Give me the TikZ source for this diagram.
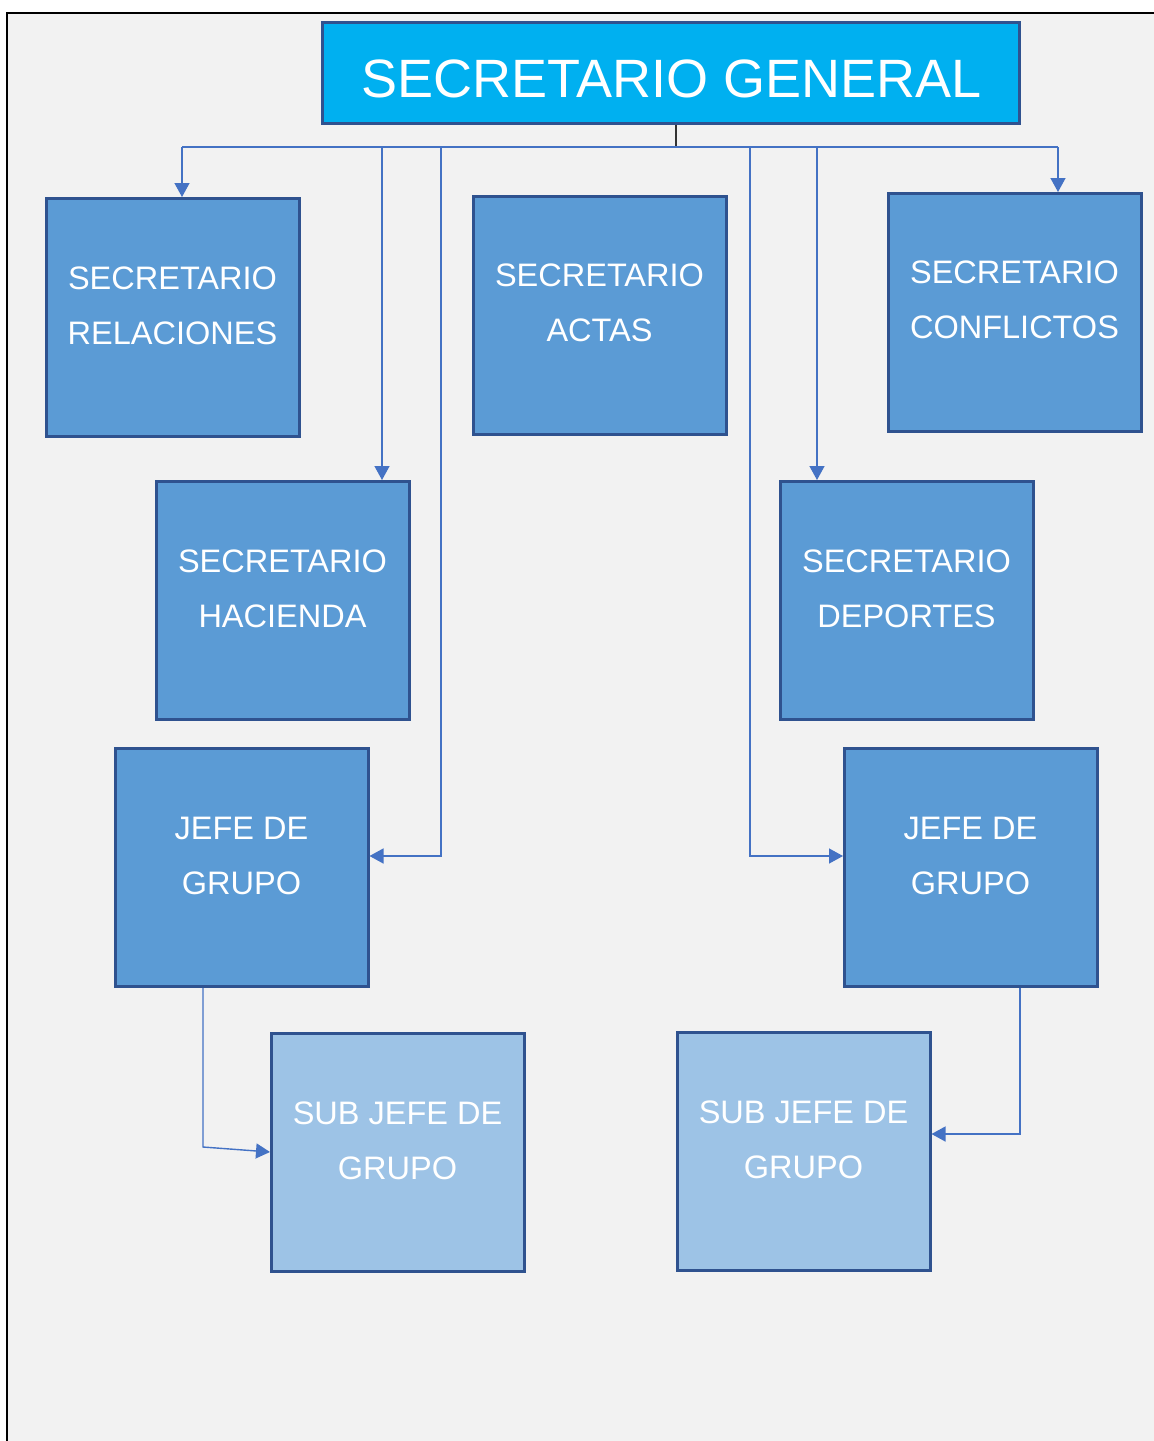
\documentclass[tikz,border=0pt]{standalone}
\usepackage{fontspec}
\setmainfont{Liberation Sans}
\usetikzlibrary{arrows.meta}

\definecolor{panelgray}{HTML}{F2F2F2}
\definecolor{headblue}{HTML}{00B0F0}
\definecolor{boxblue}{HTML}{5B9BD5}
\definecolor{subblue}{HTML}{9DC3E6}
\definecolor{edgeblue}{HTML}{2F528F}
\definecolor{linkblue}{HTML}{4472C4}

\tikzset{
  orgbox/.style={draw=edgeblue, line width=2.5pt, fill=boxblue, anchor=north west,
    minimum width=253pt, minimum height=238pt, inner sep=0pt},
  subbox/.style={orgbox, fill=subblue},
  headbox/.style={draw=edgeblue, line width=2.5pt, fill=headblue, anchor=north west,
    minimum width=697pt, minimum height=101pt, inner sep=0pt},
  boxtext/.style={text=white, align=center, inner sep=0pt,
    font=\fontsize{32.5}{55}\selectfont},
  headtext/.style={text=white, inner sep=0pt, font=\fontsize{54}{60}\selectfont},
  link/.style={draw=linkblue, line width=1.4pt},
  linkarrow/.style={link, -{Triangle[length=14pt,width=15pt]}},
}

\begin{document}
\begin{tikzpicture}[x=1pt,y=-1pt]
  \useasboundingbox (0,0) rectangle (1154,1441);
  % background panel
  \begin{scope}
    \clip (0,0) rectangle (1154,1441);
    \draw[fill=panelgray, line width=2pt] (7,13) rectangle (1170,1460);
  \end{scope}

  % boxes
  \node[headbox] (gen) at (321,21) {};
  \node[headtext] (genT) at (671.5,79) {SECRETARIO GENERAL};

  \node[orgbox] (rel) at (45,197) {};
  \node[boxtext] (relT) at (172.5,305.5) {SECRETARIO\\RELACIONES};

  \node[orgbox] (act) at (472,195) {};
  \node[boxtext] (actT) at (599.5,303) {SECRETARIO\\ACTAS};

  \node[orgbox] (con) at (887,192) {};
  \node[boxtext] (conT) at (1014.5,300) {SECRETARIO\\CONFLICTOS};

  \node[orgbox] (hac) at (155,480) {};
  \node[boxtext] (hacT) at (282.5,588.5) {SECRETARIO\\HACIENDA};

  \node[orgbox] (dep) at (779,480) {};
  \node[boxtext] (depT) at (906.5,588.5) {SECRETARIO\\DEPORTES};

  \node[orgbox] (jefL) at (114,747) {};
  \node[boxtext] (jefLT) at (241.5,856) {JEFE DE\\GRUPO};

  \node[orgbox] (jefR) at (843,747) {};
  \node[boxtext] (jefRT) at (970.5,856) {JEFE DE\\GRUPO};

  \node[subbox] (subL) at (270,1032) {};
  \node[boxtext] (subLT) at (397.5,1141) {SUB JEFE DE\\GRUPO};

  \node[subbox] (subR) at (676,1031) {};
  \node[boxtext] (subRT) at (803.5,1139.5) {SUB JEFE DE\\GRUPO};

  % branch points on the bus line
  \coordinate (bus) at (676,147);
  \coordinate (bRel) at (182,147);
  \coordinate (bHac) at (382,147);
  \coordinate (bJefL) at (441,147);
  \coordinate (bJefR) at (750,147);
  \coordinate (bDep) at (817,147);
  \coordinate (bCon) at (1058,147);
  \coordinate (kJefL) at (441,856);
  \coordinate (kJefR) at (750,856);
  \coordinate (dSubL) at (203,988);
  \coordinate (kSubL) at (203,1147);
  \coordinate (eSubL) at (270,1152);
  \coordinate (dSubR) at (1020,988);
  \coordinate (kSubR) at (1020,1134);

  % connectors
  \draw[line width=1.4pt, black!80] (gen.south -| bus) -- (bus);
  \draw[link] (bRel) -- (bCon);
  \draw[linkarrow] (bRel) -- (bRel |- rel.north);
  \draw[linkarrow] (bHac) -- (bHac |- hac.north);
  \draw[linkarrow] (bJefL) -- (kJefL) -- (kJefL -| jefL.east);
  \draw[linkarrow] (bJefR) -- (kJefR) -- (kJefR -| jefR.west);
  \draw[linkarrow] (bDep) -- (bDep |- dep.north);
  \draw[linkarrow] (bCon) -- (bCon |- con.north);
  \draw[linkarrow] (dSubL) -- (kSubL) -- (eSubL);
  \draw[linkarrow] (dSubR) -- (kSubR) -- (kSubR -| subR.east);
\end{tikzpicture}
\end{document}
